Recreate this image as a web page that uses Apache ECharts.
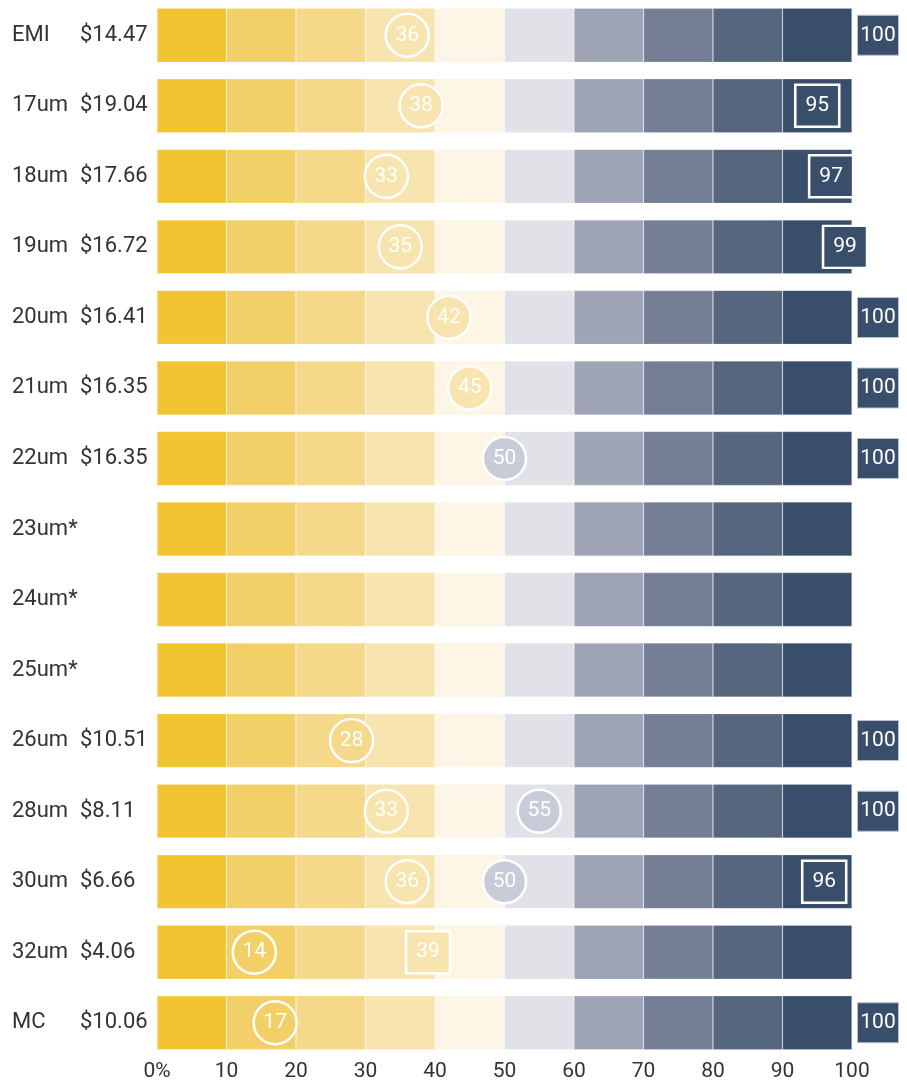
<!DOCTYPE html>
<html>
<head>
<meta charset="utf-8">
<script src="https://cdn.jsdelivr.net/npm/echarts@6/dist/echarts.min.js"></script>
<style>
  html, body { margin: 0; padding: 0; background: #fff; }
  #chart { width: 907px; height: 1083px; }
</style>
</head>
<body>
<div id="chart"></div>
<script>
// Rows: micron grade and price
const rowNames = ['EMI', '17um', '18um', '19um', '20um', '21um', '22um', '23um*', '24um*', '25um*', '26um', '28um', '30um', '32um', 'MC'];
const rowPrices = ['$14.47', '$19.04', '$17.66', '$16.72', '$16.41', '$16.35', '$16.35', '', '', '', '$10.51', '$8.11', '$6.66', '$4.06', '$10.06'];

// Percentile bands (edges) and their colours
const bandEdges = [0, 10, 20, 30, 40, 50, 60, 70, 80, 90, 100];
const bandColors = ['#F2C432', '#F3D067', '#F6D88A', '#F8E4AE', '#FDF5E6', '#E1E2E8', '#9EA3B5', '#747F96', '#55667E', '#394E6B'];
// Fill used for a marker sitting inside a band
const markerFills = ['#F2C432', '#F3D067', '#F6D88A', '#F8E4AE', '#F8E4AE', '#C8CCD8', '#9EA3B5', '#747F96', '#55667E', '#394E6B'];
const tickLabels = ['0%', '10', '20', '30', '40', '50', '60', '70', '80', '90', '100'];

// Percentile markers per row (null = none)
const circlePctA = [36, 38, 33, 35, 42, 45, 50, null, null, null, 28, 33, 36, 14, 17];
const circlePctB = [null, null, null, null, null, null, null, null, null, null, null, 55, 50, null, null];
const boxPct     = [null, 95, 97, 99, null, null, null, null, null, null, null, null, 96, 39, null];
const topPct     = [100, null, null, null, 100, 100, 100, null, null, null, 100, 100, null, null, 100];

const FONT = 'Roboto, "Liberation Sans", sans-serif';

function fillFor(v) {
  const i = Math.min(bandColors.length - 1, Math.floor(v / 10));
  return markerFills[i];
}
function points(arr) {
  const out = [];
  arr.forEach((v, i) => {
    if (v !== null) out.push({ value: [v, i], itemStyle: { color: fillFor(v) } });
  });
  return out;
}

const bandSeries = bandColors.map((c, k) => ({
  type: 'bar',
  stack: 'bands',
  barWidth: 54,
  silent: true,
  itemStyle: { color: c, borderColor: 'rgba(255,255,255,0.3)', borderWidth: 0.6 },
  data: rowNames.map(() => bandEdges[k + 1] - bandEdges[k]),
  z: 1
}));

const markerLabel = {
  show: true,
  position: 'inside',
  color: '#fff',
  fontFamily: FONT,
  fontSize: 21,
  formatter: p => String(p.value[0])
};

const chart = echarts.init(document.getElementById('chart'), null, { renderer: 'canvas' });
chart.setOption({
  animation: false,
  backgroundColor: '#fff',
  grid: { left: 157, right: 55, top: -2, height: 1060, containLabel: false },
  xAxis: {
    type: 'value',
    min: 0, max: 100, interval: 10,
    axisLine: { show: false },
    axisTick: { show: false },
    splitLine: { show: false },
    axisLabel: {
      margin: 3,
      color: '#333',
      fontFamily: FONT,
      fontSize: 21,
      formatter: v => tickLabels[Math.round(v / 10)]
    }
  },
  yAxis: {
    type: 'category',
    inverse: true,
    data: rowNames,
    axisLine: { show: false },
    axisTick: { show: false },
    axisLabel: {
      align: 'left',
      margin: 145,
      formatter: (v, i) => '{n|' + v + '}{p|' + rowPrices[i] + '}',
      rich: {
        n: { width: 68, color: '#333', fontFamily: FONT, fontSize: 22 },
        p: { color: '#333', fontFamily: FONT, fontSize: 22 }
      }
    }
  },
  series: bandSeries.concat([
    {
      type: 'scatter',
      symbol: 'circle',
      symbolSize: 43,
      itemStyle: { borderColor: '#fff', borderWidth: 2.5, opacity: 1 },
      label: markerLabel,
      data: points(circlePctA).concat(points(circlePctB)),
      z: 5
    },
    {
      type: 'scatter',
      symbol: 'rect',
      symbolSize: [44, 42],
      itemStyle: { borderColor: '#fff', borderWidth: 2.5, opacity: 1 },
      label: markerLabel,
      data: points(boxPct),
      z: 5
    },
    {
      type: 'scatter',
      symbol: 'rect',
      symbolSize: [41, 40],
      symbolOffset: [26, 0],
      itemStyle: { color: '#394E6B', borderColor: '#B8C2CF', borderWidth: 1, opacity: 1 },
      label: markerLabel,
      data: points(topPct).map(d => Object.assign(d, { itemStyle: { color: '#394E6B' } })),
      z: 5
    }
  ])
});
</script>
</body>
</html>
